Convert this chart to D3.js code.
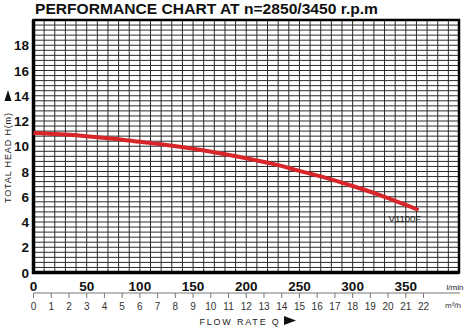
<!DOCTYPE html>
<html><head><meta charset="utf-8">
<script src="https://cdn.jsdelivr.net/npm/d3@7"></script>
<style>html,body{margin:0;padding:0;background:#fff;}svg{display:block;}</style>
</head><body>
<svg id="c" width="467" height="328"></svg>
<script>
const flowLmin = [0, 25, 50, 75, 100, 125, 150, 175, 200, 225, 250, 275, 300, 325, 350, 362];
const headM    = [11.05, 10.95, 10.8, 10.6, 10.35, 10.1, 9.8, 9.45, 9.05, 8.6, 8.05, 7.5, 6.85, 6.15, 5.35, 4.95];
const xTicks = [0, 50, 100, 150, 200, 250, 300, 350];
const yTicks = [0, 2, 4, 6, 8, 10, 12, 14, 16, 18];
const m3hTicks = d3.range(0, 23);
const seriesName = "V1100F";
const title = "PERFORMANCE CHART AT n=2850/3450 r.p.m";

const svg = d3.select("#c");
const L = 33.5, R = 459, T = 20, B = 272.5;
const x = d3.scaleLinear().domain([0, 400]).range([L, R]);
const y = d3.scaleLinear().domain([0, 20]).range([B, T]);
const xm = d3.scaleLinear().domain([0, 24]).range([L, R]); // 400 l/min = 24 m3/h
const font = "Arial, 'Liberation Sans', sans-serif";

// grid
const g = svg.append("g");
g.selectAll("line.v").data(d3.range(10, 400, 10)).join("line")
  .attr("x1", d => x(d)).attr("x2", d => x(d)).attr("y1", T).attr("y2", B)
  .attr("stroke", "#2a2a2a").attr("stroke-width", 1);
g.selectAll("line.h").data(d3.range(1, 50).map(i => i * 0.4)).join("line")
  .attr("y1", d => y(d)).attr("y2", d => y(d)).attr("x1", L).attr("x2", R)
  .attr("stroke", "#2a2a2a").attr("stroke-width", 1);

// frame
svg.append("rect").attr("x", L).attr("y", T).attr("width", R - L).attr("height", B - T)
  .attr("fill", "none").attr("stroke", "#000").attr("stroke-width", 2.5);
svg.append("line").attr("x1", L).attr("x2", L).attr("y1", T).attr("y2", B + 1.5).attr("stroke", "#000").attr("stroke-width", 3.5);
svg.append("line").attr("x1", L - 1.5).attr("x2", R).attr("y1", B).attr("y2", B).attr("stroke", "#000").attr("stroke-width", 3.5);

// curve
const pts = flowLmin.map((q, i) => [q, headM[i]]);
svg.append("path").datum(pts)
  .attr("d", d3.line().x(d => x(d[0])).y(d => y(d[1])).curve(d3.curveMonotoneX))
  .attr("fill", "none").attr("stroke", "#d8252a").attr("stroke-width", 4).attr("stroke-linecap", "butt");

svg.append("text").attr("x", x(362) - 30).attr("y", y(4.95) + 12)
  .attr("font-family", font).attr("font-size", 9.5).attr("fill", "#222").text(seriesName);

// title
svg.append("text").attr("x", 35).attr("y", 13.5).attr("font-family", font).attr("font-weight", "bold")
  .attr("font-size", 15).attr("fill", "#111").attr("textLength", 343).attr("lengthAdjust", "spacingAndGlyphs").text(title);

// y tick labels
svg.selectAll("text.yt").data(yTicks).join("text")
  .attr("x", 29).attr("y", d => y(d) + 5).attr("text-anchor", "end")
  .attr("font-family", font).attr("font-weight", "bold").attr("font-size", 13.5).attr("fill", "#111")
  .text(d => d);

// y title
const yt = svg.append("g").attr("transform", "translate(11,158) rotate(-90)");
yt.append("text").attr("x", -45).attr("y", 0)
  .attr("font-family", font).attr("font-size", 9).attr("fill", "#222")
  .attr("textLength", 90).attr("lengthAdjust", "spacing")
  .text("TOTAL HEAD H(m)");
svg.append("path").attr("d", "M8,101 L4.5,101 L8,90 L11.5,101 Z").attr("fill", "#111");

// x tick labels (l/min)
svg.selectAll("text.xt").data(xTicks).join("text")
  .attr("x", d => x(d)).attr("y", 291).attr("text-anchor", "middle")
  .attr("font-family", font).attr("font-weight", "bold").attr("font-size", 13.5).attr("fill", "#111")
  .text(d => d);
svg.append("text").attr("x", 455).attr("y", 290).attr("text-anchor", "middle")
  .attr("font-family", font).attr("font-size", 8).attr("fill", "#222").text("l/min");

// secondary m3/h axis
svg.append("line").attr("x1", L).attr("x2", 460).attr("y1", 293).attr("y2", 293).attr("stroke", "#777").attr("stroke-width", 1);
svg.selectAll("line.mt").data(m3hTicks).join("line")
  .attr("x1", d => xm(d)).attr("x2", d => xm(d)).attr("y1", 293).attr("y2", 298)
  .attr("stroke", "#777").attr("stroke-width", 1);
svg.selectAll("text.mt").data(m3hTicks).join("text")
  .attr("x", d => xm(d)).attr("y", 310).attr("text-anchor", "middle")
  .attr("font-family", font).attr("font-size", 10).attr("fill", "#333").text(d => d);
svg.append("text").attr("x", 453).attr("y", 308).attr("text-anchor", "middle")
  .attr("font-family", font).attr("font-size", 8).attr("fill", "#333").text("m³/h");

// x title
svg.append("text").attr("x", 240).attr("y", 325).attr("text-anchor", "middle")
  .attr("font-family", font).attr("font-size", 9).attr("letter-spacing", 1.8).attr("fill", "#222")
  .text("FLOW RATE Q");
svg.append("path").attr("d", "M284,316 L296,320.5 L284,325 Z").attr("fill", "#111");
</script>
</body></html>
